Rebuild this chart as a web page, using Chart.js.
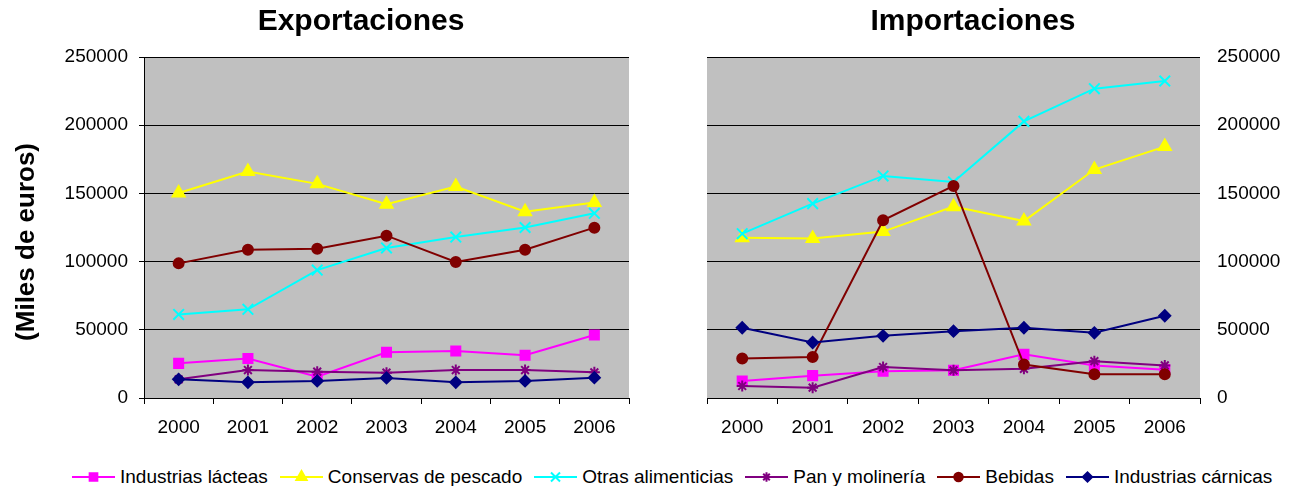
<!DOCTYPE html>
<html>
<head>
<meta charset="utf-8">
<script src="https://cdn.jsdelivr.net/npm/chart.js@4.4.1/dist/chart.umd.min.js"></script>
<style>
  body { margin: 0; background: #fff; width: 1292px; height: 486px; position: relative; overflow: hidden;
         font-family: "Liberation Sans", Arial, sans-serif; }
  #expWrap { position: absolute; left: 0; top: 0; width: 722px; height: 450px; }
  #impWrap { position: absolute; left: 654px; top: 0; width: 638px; height: 450px; }
  #leyenda { position: absolute; left: 72px; top: 465px; display: flex; align-items: center;
             font-size: 19px; line-height: 23px; white-space: nowrap; color: #000; }
  .item { display: flex; align-items: center; margin-right: 12px; }
  .item canvas { margin-right: 5px; }
</style>
</head>
<body>
<div id="expWrap"><canvas id="exportaciones" width="722" height="450"></canvas></div>
<div id="impWrap"><canvas id="importaciones" width="638" height="450"></canvas></div>
<div id="leyenda"></div>

<script>
// Datos (miles de euros)
const anios = ['2000', '2001', '2002', '2003', '2004', '2005', '2006'];
const nombres = ['Industrias lácteas', 'Conservas de pescado', 'Otras alimenticias', 'Pan y molinería', 'Bebidas', 'Industrias cárnicas'];
const ticksY = [0, 50000, 100000, 150000, 200000, 250000];

const expLacteas   = [25400, 29000, 15600, 33500, 34500, 31300, 46200];
const expConservas = [150300, 166000, 157000, 142000, 155000, 136600, 143400];
const expOtras     = [61300, 65000, 93800, 110000, 118000, 125000, 135400];
const expPan       = [13700, 20500, 19300, 18600, 20500, 20500, 18800];
const expBebidas   = [98700, 108700, 109500, 119000, 99700, 108700, 124900];
const expCarnicas  = [13700, 11500, 12500, 14700, 11500, 12500, 14900];

const impLacteas   = [12500, 16400, 19600, 20300, 32000, 23900, 20800];
const impConservas = [117500, 117000, 122000, 140300, 129700, 167500, 184300];
const impOtras     = [120500, 142500, 162800, 158400, 202800, 226800, 232400];
const impPan       = [8800, 7600, 22700, 20300, 21400, 27000, 23900];
const impBebidas   = [28900, 30100, 130300, 155500, 24500, 17400, 17400];
const impCarnicas  = [51500, 40700, 45600, 49000, 51500, 47800, 60300];

// Estilo de cada serie
const colores = ['#FF00FF', '#FFFF00', '#00FFFF', '#800080', '#800000', '#000080'];
const marcas  = ['rect', 'triangle', 'crossRot', 'star', 'circle', 'rectRot'];
const radios  = [6.4, 7, 7.5, 5.5, 5, 5.5];

const fuente = '"Liberation Sans", Arial, sans-serif';
Chart.defaults.font.family = fuente;
Chart.defaults.color = '#000';

// Fondo gris del área de trazado
const fondoGris = {
  id: 'fondoGris',
  beforeDraw(chart) {
    const { ctx, chartArea: a } = chart;
    ctx.save();
    ctx.fillStyle = '#C0C0C0';
    ctx.fillRect(a.left, a.top, a.right - a.left, a.bottom - a.top);
    ctx.restore();
  }
};

function crearSeries(valores) {
  return valores.map((datos, i) => ({
    label: nombres[i],
    data: datos,
    borderColor: colores[i],
    backgroundColor: colores[i],
    pointBackgroundColor: colores[i],
    pointBorderColor: colores[i],
    pointStyle: marcas[i],
    pointRadius: radios[i],
    pointBorderWidth: 2,
    borderWidth: 2,
    tension: 0,
    order: nombres.length - i
  }));
}

function ejeX() {
  return {
    type: 'category',
    offset: true,
    grid: { display: true, drawOnChartArea: false, offset: true, color: '#000', tickLength: 6 },
    border: { color: '#000', width: 1 },
    ticks: { color: '#000', font: { size: 19 }, padding: 12, maxRotation: 0, autoSkip: false },
    afterFit: s => { s.height = 52; }
  };
}

function ejeY(lado) {
  const izq = lado === 'left';
  return {
    position: lado,
    min: ticksY[0],
    max: ticksY[ticksY.length - 1],
    ticks: {
      stepSize: ticksY[1] - ticksY[0],
      color: '#000',
      font: { size: 19 },
      padding: izq ? 11 : 17,
      callback: v => String(v)
    },
    grid: { color: '#000', lineWidth: 1, drawTicks: izq, tickLength: 5 },
    border: { display: izq, color: '#000' },
    title: {
      display: izq,
      text: '(Miles de euros)    ',
      color: '#000',
      font: { size: 26, weight: 'bold' },
      padding: { top: 11, bottom: 0 }
    },
    afterFit: s => { s.width = izq ? 144 : 92; }
  };
}

// eje vacío que sólo reserva el margen del otro lado
function ejeHueco(lado, ancho) {
  return {
    type: 'linear',
    position: lado,
    min: 0,
    max: 1,
    grid: { display: false },
    border: { display: false },
    ticks: { display: false },
    afterFit: s => { s.width = ancho; }
  };
}

function opciones(titulo, lado) {
  const izq = lado === 'left';
  return {
    responsive: false,
    animation: false,
    layout: { padding: 0 },
    plugins: {
      legend: { display: false },
      tooltip: { enabled: false },
      title: {
        display: true,
        text: titulo,
        color: '#000',
        font: { size: 30, weight: 'bold' },
        padding: { top: 4, bottom: 17 }
      }
    },
    scales: {
      x: ejeX(),
      y: ejeY(lado),
      hueco: izq ? ejeHueco('right', 93) : ejeHueco('left', 53)
    }
  };
}

new Chart(document.getElementById('exportaciones'), {
  type: 'line',
  data: { labels: anios, datasets: crearSeries([expLacteas, expConservas, expOtras, expPan, expBebidas, expCarnicas]) },
  options: opciones('Exportaciones', 'left'),
  plugins: [fondoGris]
});

new Chart(document.getElementById('importaciones'), {
  type: 'line',
  data: { labels: anios, datasets: crearSeries([impLacteas, impConservas, impOtras, impPan, impBebidas, impCarnicas]) },
  options: opciones('Importaciones', 'right'),
  plugins: [fondoGris]
});

// Leyenda común
const leyenda = document.getElementById('leyenda');
nombres.forEach((nombre, i) => {
  const item = document.createElement('div');
  item.className = 'item';
  const c = document.createElement('canvas');
  c.width = 43; c.height = 20;
  const ctx = c.getContext('2d');
  ctx.strokeStyle = colores[i];
  ctx.fillStyle = colores[i];
  ctx.lineWidth = 2;
  ctx.beginPath();
  ctx.moveTo(0, 10);
  ctx.lineTo(43, 10);
  ctx.stroke();
  if (Chart.helpers && Chart.helpers.drawPoint) {
    Chart.helpers.drawPoint(ctx, { pointStyle: marcas[i], radius: radios[i] * 0.85, rotation: 0, borderWidth: 2 }, 21.5, 10);
  }
  const txt = document.createElement('span');
  txt.textContent = nombre;
  item.appendChild(c);
  item.appendChild(txt);
  leyenda.appendChild(item);
});
</script>
</body>
</html>
